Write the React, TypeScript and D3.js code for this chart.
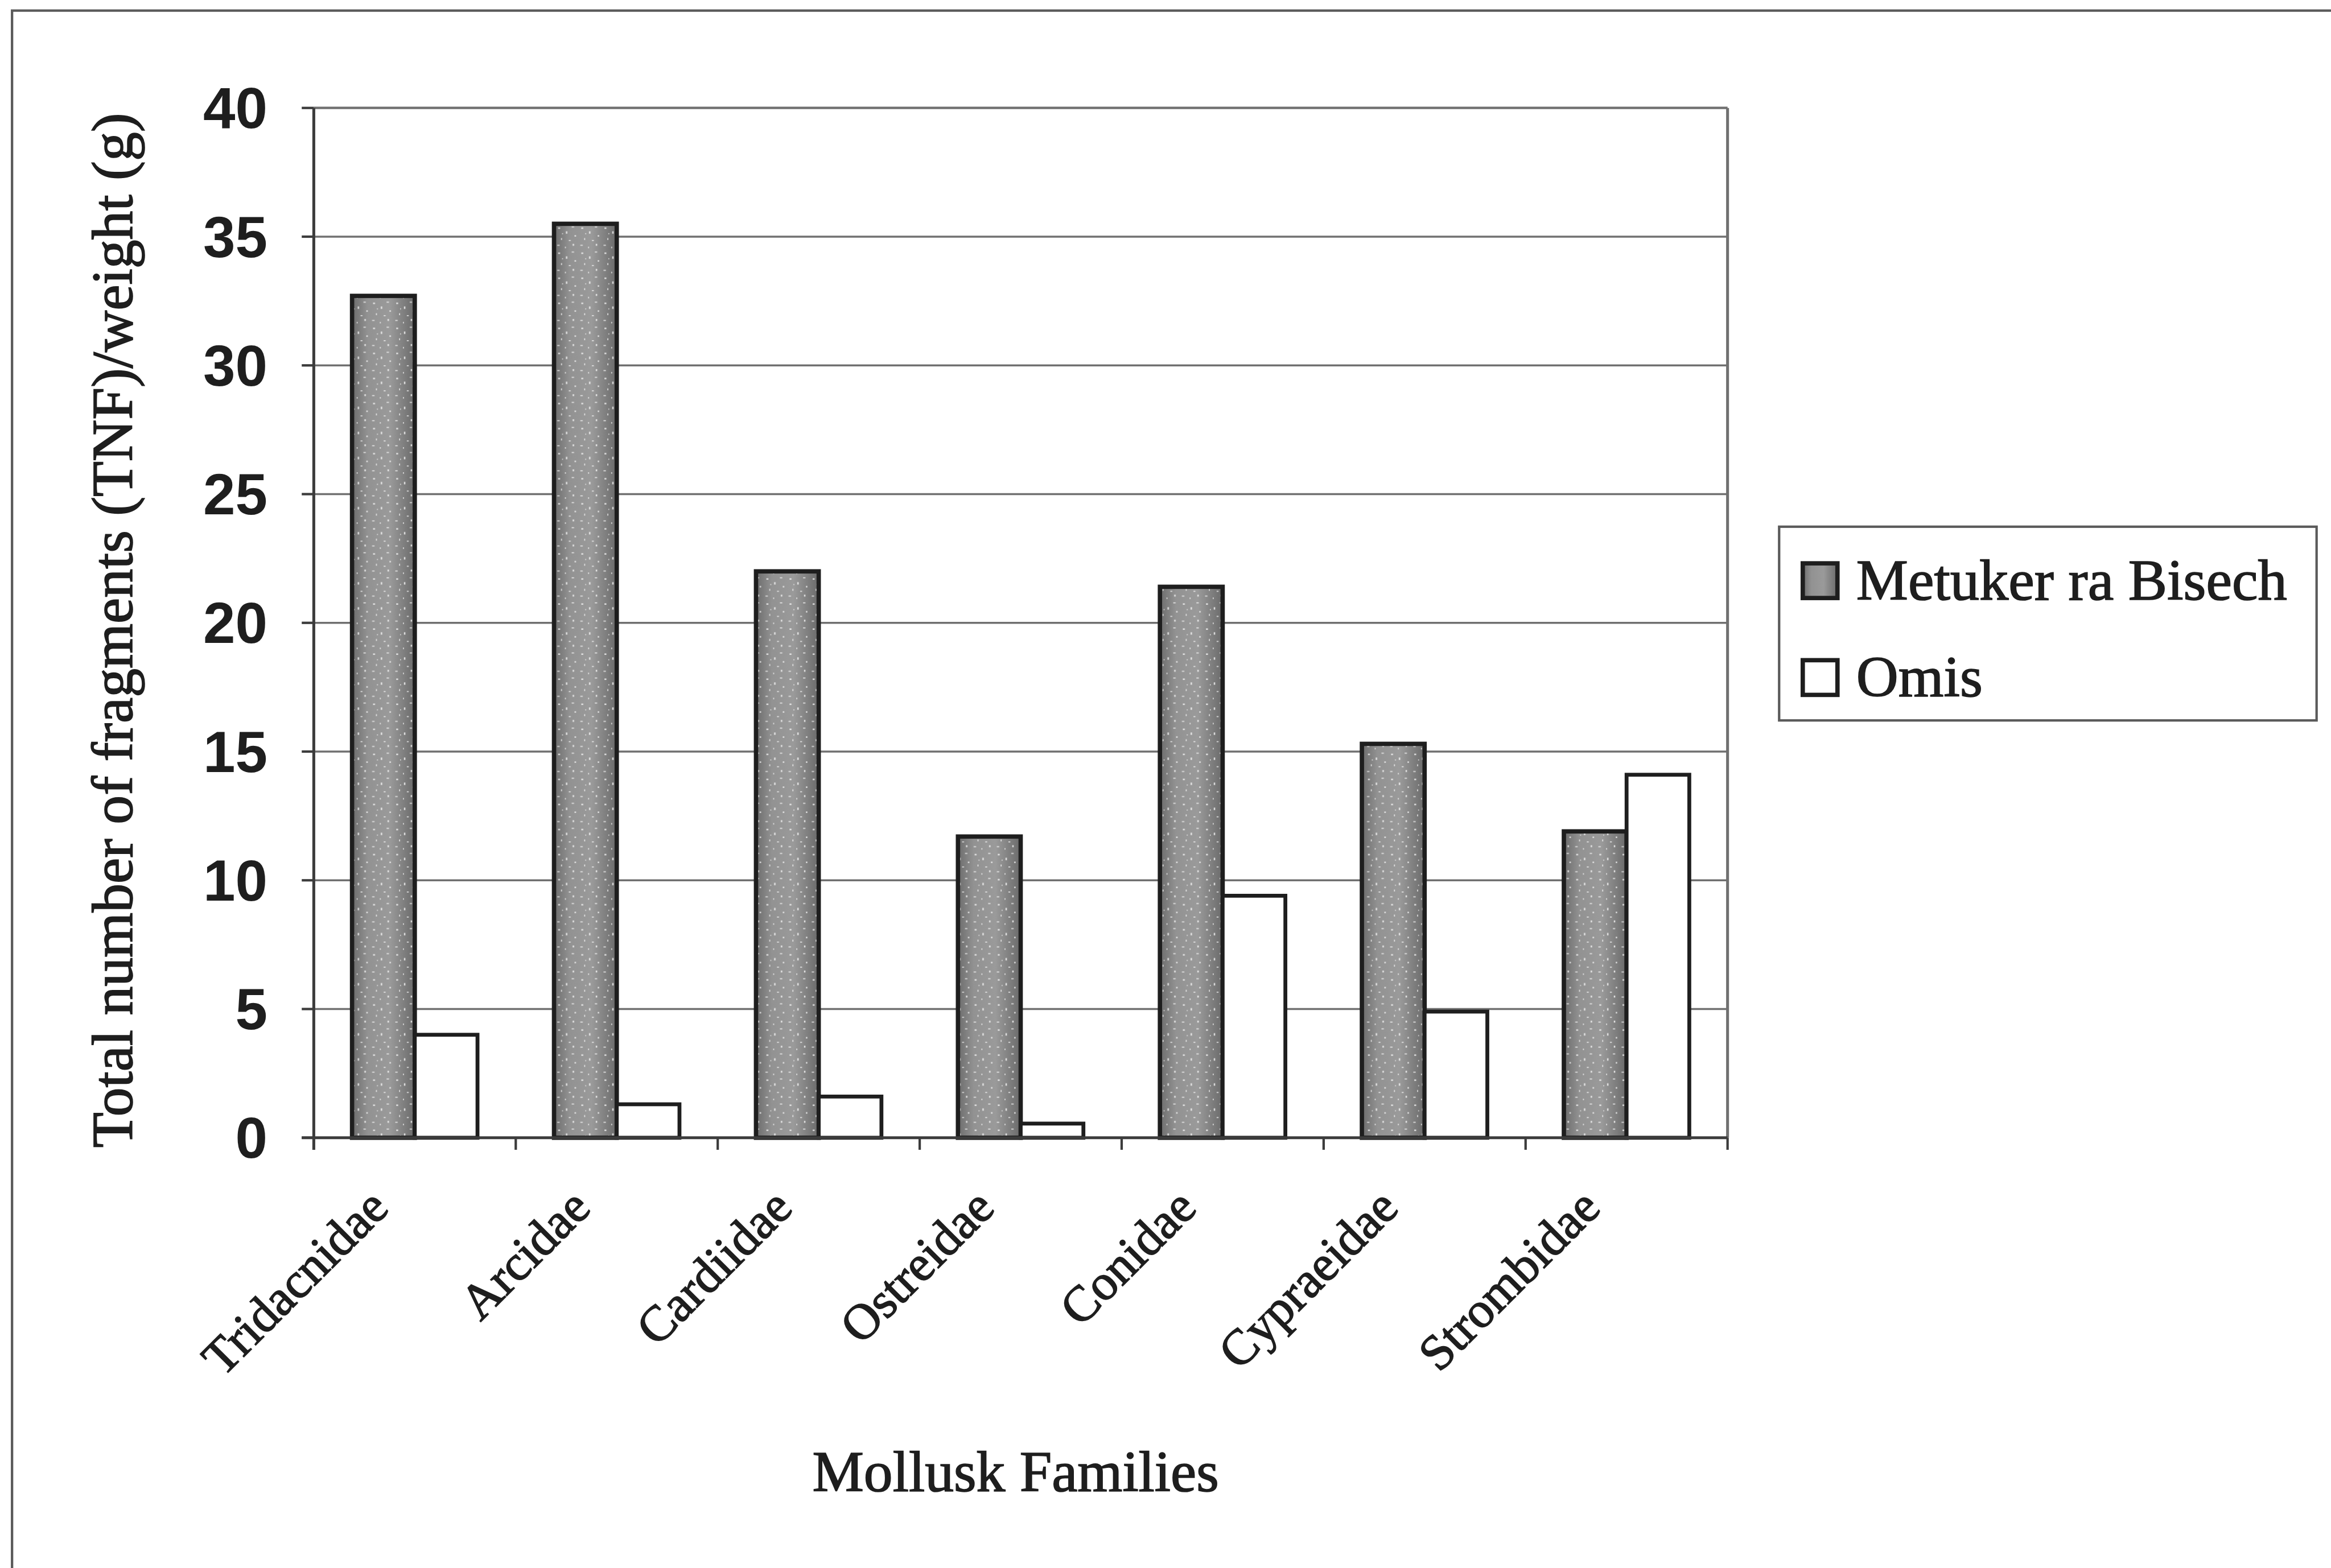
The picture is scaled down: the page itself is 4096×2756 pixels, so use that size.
import React from "react";
import * as d3 from "d3";

const categories = ["Tridacnidae", "Arcidae", "Cardiidae", "Ostreidae", "Conidae", "Cypraeidae", "Strombidae"];
const seriesNames = ["Metuker ra Bisech", "Omis"];
const metuker = [32.7, 35.5, 22.0, 11.7, 21.4, 15.3, 11.9];
const omis = [4.0, 1.3, 1.6, 0.55, 9.4, 4.9, 14.1];
const yTicks = [0, 5, 10, 15, 20, 25, 30, 35, 40];
const yTitle = "Total number of fragments (TNF)/weight (g)";
const xTitle = "Mollusk Families";

const S = 0.847;
const W = 4831;
const H = 3250;
const plot = { left: 651, right: 3584, top: 224, bottom: 2361 };
const SERIF = "'Liberation Serif', 'Times New Roman', serif";
const SANS = "'Liberation Sans', Arial, sans-serif";
const INK = "#1e1e1e";
const TXT_STROKE = 2;

export default function App() {
  const x0 = d3.scaleBand<string>().domain(categories).range([plot.left, plot.right]).padding(0);
  const band = x0.bandwidth();
  const gapRatio = 1.22;
  const barW = band / (seriesNames.length + gapRatio);
  const outer = (band - barW * seriesNames.length) / 2;
  const x1 = d3.scaleBand<string>().domain(seriesNames).range([outer, band - outer]).padding(0);
  const y = d3.scaleLinear().domain([0, 40]).range([plot.bottom, plot.top]);
  const values = [metuker, omis];

  const specks: [number, number, number, number][] = [
    [6, 4, 4, 3], [22, 12, 3, 5], [34, 2, 5, 2], [12, 26, 2, 4], [28, 30, 4, 2], [40, 20, 3, 3], [4, 40, 5, 2], [20, 44, 2, 3], [36, 38, 3, 4], [14, 16, 2, 2],
  ];

  return (
    <svg width={4096} height={2756} style={{ position: "absolute", left: 0, top: 0, background: "#fff" }}>
      <defs>
        <linearGradient id="barGrad" x1="0" x2="1" y1="0" y2="0">
          <stop offset="0" stopColor="#6c6c6c" />
          <stop offset="0.25" stopColor="#929292" />
          <stop offset="0.6" stopColor="#9a9a9a" />
          <stop offset="1" stopColor="#6a6a6a" />
        </linearGradient>
        <pattern id="speck" patternUnits="userSpaceOnUse" width={48} height={52}>
          {specks.map((s, i) => (
            <rect key={i} x={s[0]} y={s[1]} width={s[2]} height={s[3]} fill="#fff" opacity={0.75} />
          ))}
        </pattern>
      </defs>
      <g transform={`scale(${S})`}>
        <rect x={0} y={0} width={W} height={H} fill="#fff" />
        {/* outer chart frame (cropped at right/bottom) */}
        <path d={`M25,${H + 20} L25,22 L${W + 20},22`} fill="none" stroke="#5a5a5a" strokeWidth={5} />

        {/* gridlines */}
        {yTicks.filter((t) => t > 0).map((t) => (
          <line key={t} x1={plot.left} x2={plot.right} y1={y(t)} y2={y(t)} stroke="#707070" strokeWidth={t === 40 ? 5 : 4} />
        ))}
        {/* right border */}
        <line x1={plot.right} x2={plot.right} y1={plot.top} y2={plot.bottom} stroke="#707070" strokeWidth={6} />

        {/* bars */}
        {categories.map((c, ci) =>
          seriesNames.map((s, si) => {
            const v = values[si][ci];
            const bx = (x0(c) as number) + (x1(s) as number);
            const by = y(v);
            const bh = plot.bottom - by;
            return (
              <g key={c + s}>
                {si === 0 ? (
                  <>
                    <rect x={bx} y={by} width={barW} height={bh} fill="url(#barGrad)" />
                    <rect x={bx} y={by} width={barW} height={bh} fill="url(#speck)" />
                    <rect x={bx} y={by} width={barW} height={bh} fill="none" stroke={INK} strokeWidth={9} />
                  </>
                ) : (
                  <rect x={bx} y={by} width={barW} height={bh} fill="#fff" stroke={INK} strokeWidth={8} />
                )}
              </g>
            );
          })
        )}

        {/* axes */}
        <line x1={plot.left} x2={plot.left} y1={plot.top} y2={plot.bottom + 25} stroke="#3c3c3c" strokeWidth={6} />
        <line x1={plot.left - 25} x2={plot.right} y1={plot.bottom} y2={plot.bottom} stroke="#3c3c3c" strokeWidth={6} />
        {yTicks.map((t) => (
          <line key={"yt" + t} x1={plot.left - 25} x2={plot.left} y1={y(t)} y2={y(t)} stroke="#3c3c3c" strokeWidth={5} />
        ))}
        {categories.map((c) => (
          <line key={"xt" + c} x1={(x0(c) as number) + band} x2={(x0(c) as number) + band} y1={plot.bottom} y2={plot.bottom + 25} stroke="#3c3c3c" strokeWidth={5} />
        ))}

        {/* y tick labels */}
        {yTicks.map((t) => (
          <text key={"yl" + t} x={555} y={y(t)} dy="0.35em" textAnchor="end" fontFamily={SANS} fontWeight="bold" fontSize={120} fill={INK}>
            {t}
          </text>
        ))}

        {/* x tick labels */}
        {categories.map((c) => {
          const cx = (x0(c) as number) + band / 2;
          const ax = cx - 50;
          const ay = plot.bottom + 150;
          return (
            <text key={"xl" + c} x={ax} y={ay} transform={`rotate(-45, ${ax}, ${ay})`} textAnchor="end" fontFamily={SERIF} fontSize={104} fill={INK} stroke={INK} strokeWidth={TXT_STROKE}>
              {c}
            </text>
          );
        })}

        {/* axis titles */}
        <text x={274} y={1308} transform="rotate(-90, 274, 1308)" textAnchor="middle" fontFamily={SERIF} fontSize={120} fill={INK} stroke={INK} strokeWidth={TXT_STROKE}>
          {yTitle}
        </text>
        <text x={2107} y={3094} textAnchor="middle" fontFamily={SERIF} fontSize={120} fill={INK} stroke={INK} strokeWidth={TXT_STROKE}>
          {xTitle}
        </text>

        {/* legend */}
        <rect x={3691} y={1093} width={1115} height={402} fill="#fff" stroke="#5a5a5a" strokeWidth={5} />
        {seriesNames.map((s, i) => {
          const base = i === 0 ? 1244 : 1445;
          return (
            <g key={"lg" + s}>
              {i === 0 ? (
                <>
                  <rect x={3740} y={base - 75} width={72} height={72} fill="url(#barGrad)" />
                  <rect x={3740} y={base - 75} width={72} height={72} fill="none" stroke={INK} strokeWidth={9} />
                </>
              ) : (
                <rect x={3740} y={base - 75} width={72} height={72} fill="#fff" stroke={INK} strokeWidth={9} />
              )}
              <text x={3851} y={base} fontFamily={SERIF} fontSize={121} fill={INK} stroke={INK} strokeWidth={TXT_STROKE}>
                {s}
              </text>
            </g>
          );
        })}
      </g>
    </svg>
  );
}
